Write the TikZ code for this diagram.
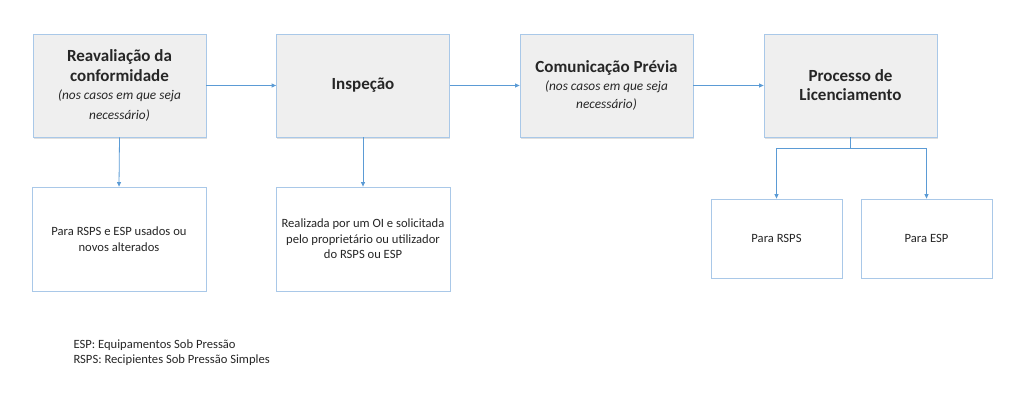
\documentclass[tikz,border=0pt]{standalone}
\usepackage{fontspec}
\setmainfont{Carlito}
\usetikzlibrary{arrows.meta,shadows}
\definecolor{boxedge}{HTML}{A9C8E8}
\definecolor{boxfill}{HTML}{EFEFEF}
\definecolor{arrowblue}{HTML}{5B9BD5}
\definecolor{textgray}{HTML}{262626}
\newcommand\steptitle{\bfseries\fontsize{17}{20}\selectfont}
\newcommand\stepnote{\itshape\fontsize{13.3}{20}\selectfont}

\begin{document}
\begin{tikzpicture}[x=1pt,y=-1pt,
    stepbox/.style={draw=boxedge,fill=boxfill,line width=0.8pt,minimum width=173pt,minimum height=103pt,align=center,text=textgray,
        font=\fontsize{17}{20}\selectfont,drop shadow={shadow xshift=0.6pt,shadow yshift=-1.6pt,opacity=0.25}},
    notebox/.style={draw=boxedge,fill=white,line width=0.8pt,align=center,text=textgray,font=\fontsize{12.6}{15.5}\selectfont},
    flow/.style={draw=arrowblue,line width=0.8pt,-{Triangle[length=4.5pt,width=4pt]}}]
    \useasboundingbox (0,0) rectangle (1024,414);
    % main steps
    \node[stepbox] (reav) at (119.5,85.5) {\steptitle Reavaliação da\\\steptitle conformidade\\[-2pt]\stepnote (nos casos em que seja\\\stepnote necessário)};
    \node[stepbox] (insp) at (363,85.5) {\steptitle Inspeção};
    \node[stepbox] (com) at (606.5,85.5) {\steptitle Comunicação Prévia\\[-2pt]\stepnote (nos casos em que seja\\[-2pt]\stepnote necessário)};
    \node[stepbox] (lic) at (850.5,85.5) {\steptitle Processo de\\[-1pt]\steptitle Licenciamento};
    % notes
    \node[notebox,minimum width=174pt,minimum height=104pt] (usados) at (119,239) {Para RSPS e ESP usados ou\\novos alterados};
    \node[notebox,minimum width=174pt,minimum height=104pt] (oi) at (363,239) {Realizada por um OI e solicitada\\pelo proprietário ou utilizador\\do RSPS ou ESP};
    \node[notebox,minimum width=131pt,minimum height=79pt] (rsps) at (776.5,238.5) {Para RSPS};
    \node[notebox,minimum width=131pt,minimum height=79pt] (esp) at (926.5,238.5) {Para ESP};
    % connectors
    \draw[flow] (reav) -- (insp);
    \draw[flow] (insp) -- (com);
    \draw[flow] (com) -- (lic);
    \draw[flow] (reav.south) -- (usados.north);
    \draw[flow] (insp.south) -- (oi.north);
    \coordinate (fork) at ([yshift=-11pt]lic.south);
    \draw[draw=arrowblue,line width=0.8pt] (lic.south) -- (fork);
    \draw[flow] (fork) -| (rsps.north);
    \draw[flow] (fork) -| (esp.north);
    % legend
    \node[anchor=base west,align=left,text=textgray,font=\fontsize{12.6}{15}\selectfont] (legend) at (70,363)
        {ESP: Equipamentos Sob Pressão\\RSPS: Recipientes Sob Pressão Simples};
\end{tikzpicture}
\end{document}
